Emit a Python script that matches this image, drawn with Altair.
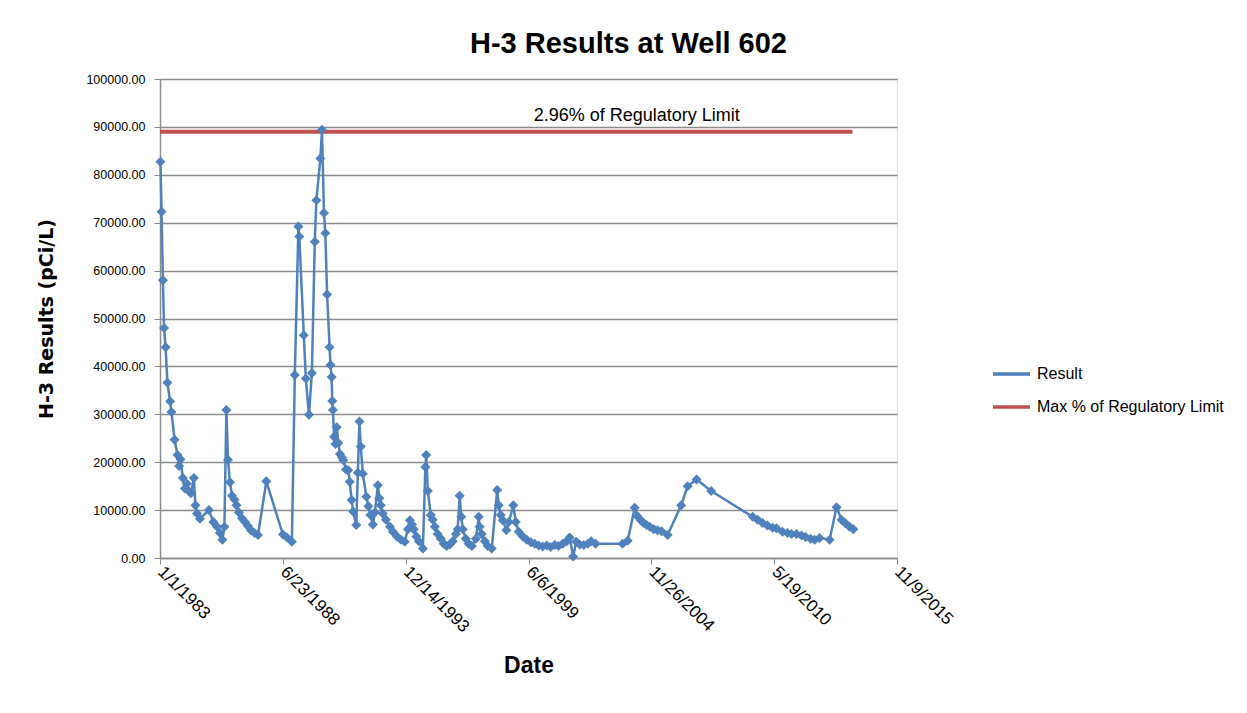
import altair as alt
import pandas as pd

# ---- data (decimal years, pCi/L) ----
years = [
    1983.02, 1983.07, 1983.13, 1983.18, 1983.25, 1983.33, 1983.45, 1983.51, 1983.65, 1983.78, 1983.85, 1983.91,
    1984.02, 1984.11, 1984.20, 1984.29, 1984.38, 1984.51, 1984.58, 1984.65, 1984.78, 1985.18, 1985.38, 1985.54,
    1985.67, 1985.78, 1985.87, 1985.96,
    1986.03, 1986.12, 1986.21, 1986.32, 1986.41, 1986.52, 1986.65, 1986.79, 1986.92, 1987.05, 1987.21, 1987.37, 1987.74,
    1988.48, 1988.66, 1988.88, 1989.01, 1989.17, 1989.21, 1989.41, 1989.50, 1989.64, 1989.77, 1989.90, 1989.97,
    1990.15, 1990.22, 1990.31, 1990.37, 1990.45, 1990.56, 1990.60, 1990.65, 1990.68, 1990.71, 1990.76, 1990.82,
    1990.88, 1990.95,
    1991.02, 1991.11, 1991.17, 1991.29, 1991.39, 1991.46, 1991.54, 1991.61, 1991.75, 1991.82, 1991.89, 1991.95,
    1992.04, 1992.20, 1992.29, 1992.38, 1992.49, 1992.58, 1992.71, 1992.78, 1992.84, 1992.93,
    1993.07, 1993.25, 1993.38, 1993.56, 1993.74, 1993.91,
    1994.05, 1994.14, 1994.23, 1994.31, 1994.43, 1994.54, 1994.72, 1994.83, 1994.87, 1994.94,
    1995.07, 1995.16, 1995.25, 1995.38, 1995.52, 1995.65, 1995.78, 1995.92,
    1996.05, 1996.19, 1996.27, 1996.36, 1996.43, 1996.50, 1996.63, 1996.76, 1996.90,
    1997.08, 1997.21, 1997.25, 1997.34, 1997.48, 1997.61, 1997.79,
    1998.03, 1998.10, 1998.19, 1998.28, 1998.44, 1998.55, 1998.75, 1998.86, 1998.99,
    1999.17, 1999.35, 1999.53, 1999.70, 1999.88,
    2000.06, 2000.24, 2000.42, 2000.60, 2000.77, 2000.95,
    2001.13, 2001.26, 2001.42, 2001.55, 2001.71, 2001.89,
    2002.07, 2002.22, 2002.42, 2003.62, 2003.85,
    2004.16, 2004.29, 2004.43, 2004.56, 2004.69, 2004.83,
    2005.01, 2005.18, 2005.36, 2005.63, 2006.23, 2006.52, 2006.92, 2007.57,
    2009.42, 2009.64, 2009.86, 2010.08, 2010.31, 2010.48, 2010.75, 2010.97,
    2011.15, 2011.38, 2011.60, 2011.78, 2012.00, 2012.18, 2012.40, 2012.85,
    2013.16, 2013.38, 2013.56, 2013.74, 2013.91,
]
values = [
    82700, 72300, 58000, 48000, 44000, 36600, 32700, 30500, 24700, 21500, 19200, 20600,
    16700, 14500, 15500, 14000, 13500, 16700, 11000, 9300, 8200, 10000, 7500, 6500,
    5200, 3800, 6500, 30900,
    20500, 15800, 13000, 12200, 11000, 9500, 8300, 7500, 6700, 5800, 5200, 4800, 16000,
    4900, 4300, 3400, 38200, 69200, 67100, 46500, 37500, 29900, 38600, 66000, 74700,
    83400, 89400, 72000, 67800, 55000, 44000, 40300, 37800, 32800, 30900, 25300, 23800,
    27300, 24000,
    21700, 21000, 20400, 18500, 18300, 15900, 12100, 9700, 6900, 17800, 28500, 23300,
    17600, 12800, 10800, 9000, 7000, 9500, 15200, 12500, 11000, 9300,
    8000, 6500, 5500, 4500, 3800, 3400,
    6000, 7900, 7000, 6000, 4500, 3500, 2000, 19000, 21500, 14000,
    9000, 8000, 6500, 5000, 4000, 3000, 2500, 2800,
    3500, 5000, 6000, 13000, 8600, 6000, 4000, 3000, 2500,
    4000, 8600, 6500, 5000, 3500, 2500, 2000,
    14200, 11000, 9000, 7900, 5800, 7500, 11000, 7500, 5500,
    4500, 3800, 3300, 3000, 2600,
    2400, 2600, 2300, 2700, 2500, 3000,
    3500, 4300, 300, 3400, 2800, 2700,
    3000, 3500, 3000, 3000, 3600,
    10500, 8700, 7900, 7300, 6900, 6500,
    6000, 5800, 5600, 4800, 11000, 15000, 16400, 14000,
    8600, 8000, 7300, 6800, 6300, 6200, 5500, 5200,
    5000, 5000, 4700, 4400, 4000, 3800, 4200, 3800,
    10600, 8000, 7200, 6500, 6000,
]

series_names = ["Result", "Max % of Regulatory Limit"]
series_colors = ["#4F81BD", "#C0504D"]
limit_years = [1983.0, 2013.87]
limit_value = 89000
label_text = "2.96% of Regulatory Limit"
label_year = 2004.25
label_value = 92300
x_tick_dates = [(1983, 1, 1), (1988, 6, 23), (1993, 12, 14), (1999, 6, 6),
                (2004, 11, 26), (2010, 5, 19), (2015, 11, 9)]
y_ticks = [0, 10000, 20000, 30000, 40000, 50000, 60000, 70000, 80000, 90000, 100000]


def to_date(y):
    return pd.Timestamp("1983-01-01") + pd.to_timedelta((y - 1983) * 365.25, unit="D")


df = pd.DataFrame({"date": [to_date(y) for y in years], "value": values, "series": series_names[0]})
lim = pd.DataFrame({"date": [to_date(y) for y in limit_years],
                    "value": [limit_value] * 2, "series": series_names[1]})
lab = pd.DataFrame({"date": [to_date(label_year)], "value": [label_value], "text": [label_text]})


def dt(t):
    return alt.DateTime(year=t[0], month=t[1], date=t[2], utc=True)


FONT = "Liberation Sans"
GRID = "#8C8C8C"

x_enc = alt.X(
    "date:T",
    scale=alt.Scale(type="utc", domain=[dt(x_tick_dates[0]), dt(x_tick_dates[-1])], nice=False),
    axis=alt.Axis(
        values=[dt(t) for t in x_tick_dates], format="%-m/%-d/%Y", labelAngle=45,
        labelAlign="left", labelBaseline="middle", labelFont=FONT, labelFontSize=17,
        labelColor="#000000", labelPadding=5, tickSize=6, tickColor=GRID, domainColor=GRID,
        domainWidth=1.5, grid=False, title="Date", titleFont=FONT, titleFontSize=23,
        titleFontWeight="bold", titleColor="#000000", titleY=114, titleBaseline="alphabetic",
        labelOverlap=False, labelFlush=False,
    ),
)
y_enc = alt.Y(
    "value:Q",
    scale=alt.Scale(domain=[0, 100000], nice=False),
    axis=alt.Axis(
        values=y_ticks, format=".2f", labelFont=FONT, labelFontSize=12.5, labelColor="#000000",
        labelPadding=9, tickSize=6, tickColor=GRID, domainColor=GRID, domainWidth=1.5,
        gridColor=GRID, gridWidth=1.5, title="H-3 Results (pCi/L)", titleFont="DejaVu Sans",
        titleFontSize=19, titleFontWeight="bold", titleColor="#000000", titleX=-114,
        titleBaseline="middle",
    ),
)
color_enc = alt.Color(
    "series:N",
    scale=alt.Scale(domain=series_names, range=series_colors),
    legend=alt.Legend(
        title=None, orient="none", legendX=831, legendY=285, symbolType="stroke",
        symbolSize=1369, symbolStrokeWidth=3.5, labelFont=FONT, labelFontSize=16,
        labelColor="#000000", labelOffset=5, clipHeight=20, rowPadding=13, padding=0,
        labelLimit=400,
    ),
)

limit_line = alt.Chart(lim).mark_line(strokeWidth=4).encode(x=x_enc, y=y_enc, color=color_enc)
result_line = alt.Chart(df).mark_line(strokeWidth=2.5).encode(x=x_enc, y=y_enc, color=color_enc)
result_pts = alt.Chart(df).mark_point(shape="diamond", filled=True, size=100, opacity=1).encode(
    x=x_enc, y=y_enc, color=alt.value(series_colors[0])
)
label = alt.Chart(lab).mark_text(font=FONT, fontSize=18, color="#000000", align="center",
                                 baseline="middle").encode(x=x_enc, y=y_enc, text="text:N")

chart = alt.layer(limit_line, result_line, result_pts, label).properties(
    width=737, height=479, autosize="none",
    padding={"left": 152, "top": 71, "right": 341, "bottom": 140},
    title=alt.TitleParams("H-3 Results at Well 602", font=FONT, fontSize=29, fontWeight="bold",
                          color="#000000", anchor="middle", frame="group", dx=100, dy=25,
                          offset=16, baseline="alphabetic"),
).configure_view(stroke=None).configure(background="white")

chart.save("out.html", embed_options={"renderer": "svg", "actions": False})
